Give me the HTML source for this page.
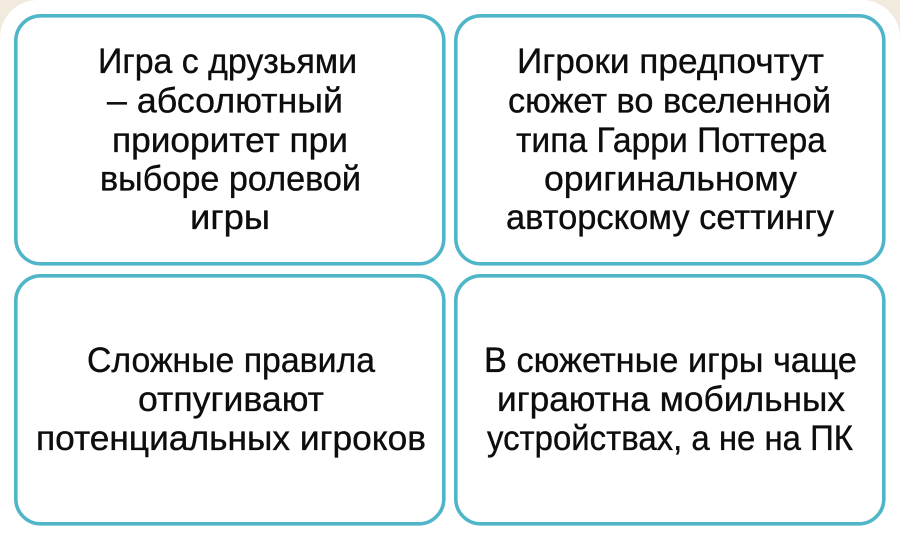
<!DOCTYPE html>
<html lang="ru">
<head>
<meta charset="utf-8">
<style>
html,body{margin:0;padding:0;width:900px;height:540px;overflow:hidden;background:#fff}
svg{display:block}
text{font-family:"Liberation Sans",sans-serif;font-size:35px;fill:#0d0d0d;stroke:#0d0d0d;stroke-width:.35px}
</style>
</head>
<body>
<svg width="900" height="540" viewBox="0 0 900 540" xmlns="http://www.w3.org/2000/svg">
<rect width="900" height="540" fill="#f2eade"/>
<path d="M0 540V38A38 38 0 0 1 38 0H862A38 38 0 0 1 900 38V540Z" fill="#fff"/>
<g fill="#fff" stroke="#4fb6c9" stroke-width="3.6">
<rect x="15.8" y="15.8" width="428" height="248" rx="25"/>
<rect x="455.8" y="15.8" width="428" height="248" rx="25"/>
<rect x="15.8" y="275.8" width="428" height="248" rx="25"/>
<rect x="455.8" y="275.8" width="428" height="248" rx="25"/>
</g>
<g>
<text x="98" y="73" textLength="259" lengthAdjust="spacingAndGlyphs">Игра с друзьями</text>
<text x="107" y="112.5" textLength="236" lengthAdjust="spacingAndGlyphs">– абсолютный</text>
<text x="112" y="152" textLength="236" lengthAdjust="spacingAndGlyphs">приоритет при</text>
<text x="100" y="190.5" textLength="261" lengthAdjust="spacingAndGlyphs">выборе ролевой</text>
<text x="190" y="229" textLength="80" lengthAdjust="spacingAndGlyphs">игры</text>
<text x="517" y="73" textLength="307" lengthAdjust="spacingAndGlyphs">Игроки предпочтут</text>
<text x="508" y="112.5" textLength="323" lengthAdjust="spacingAndGlyphs">сюжет во вселенной</text>
<text x="516" y="152" textLength="310" lengthAdjust="spacingAndGlyphs">типа Гарри Поттера</text>
<text x="544" y="190.5" textLength="253" lengthAdjust="spacingAndGlyphs">оригинальному</text>
<text x="506" y="229" textLength="328" lengthAdjust="spacingAndGlyphs">авторскому сеттингу</text>
<text x="87" y="372" textLength="288" lengthAdjust="spacingAndGlyphs">Сложные правила</text>
<text x="138" y="411" textLength="186" lengthAdjust="spacingAndGlyphs">отпугивают</text>
<text x="36" y="450" textLength="390" lengthAdjust="spacingAndGlyphs">потенциальных игроков</text>
<text x="484" y="372" textLength="373" lengthAdjust="spacingAndGlyphs">В сюжетные игры чаще</text>
<text x="497" y="411" textLength="348" lengthAdjust="spacingAndGlyphs">играютна мобильных</text>
<text x="487" y="450" textLength="366" lengthAdjust="spacingAndGlyphs">устройствах, а не на ПК</text>
</g>
</svg>
</body>
</html>
